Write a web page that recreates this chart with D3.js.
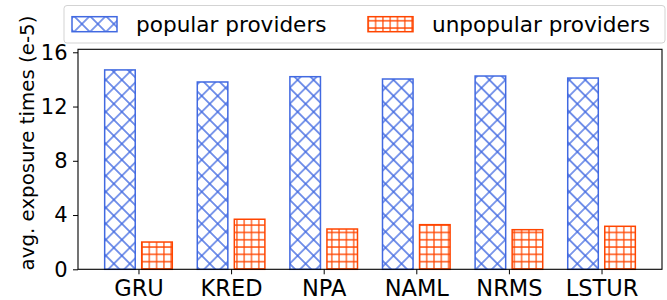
<!DOCTYPE html>
<html>
<head>
<meta charset="utf-8">
<script src="https://cdn.jsdelivr.net/npm/d3@7"></script>
<style>
	body { margin: 0; background: #fff; }
	text { font-family: "DejaVu Sans", sans-serif; }
</style>
</head>
<body>
<div id="chart"></div>
<script>
//Models on the x axis
var models = ["GRU", "KRED", "NPA", "NAML", "NRMS", "LSTUR"];

//avg. exposure times (e-5)
var popularValues = [14.70, 13.81, 14.20, 14.03, 14.25, 14.10];
var unpopularValues = [2.01, 3.69, 2.97, 3.29, 2.92, 3.17];

var yTicks = [0, 4, 8, 12, 16];
var seriesNames = ["popular providers", "unpopular providers"];

var blue = "#4169e1", orange = "#ff4500";

function draw(){
	var w = 667, h = 300;
	var left = 78, right = 662, top = 49.3, bottom = 269.3;

	var svg = d3.select("#chart").append("svg")
		.attr("width", w)
		.attr("height", h);

	var defs = svg.append("defs");

	//cross hatch: a square grid turned by 45 degrees
	var xHatch = defs.append("pattern")
		.attr("id", "hatchX")
		.attr("patternUnits", "userSpaceOnUse")
		.attr("width", 11.3)
		.attr("height", 11.3)
		.attr("patternTransform", "translate(2,0) rotate(45)");
	xHatch.append("path")
		.attr("d", "M5.65,0V11.3M0,5.65H11.3")
		.attr("stroke", blue)
		.attr("stroke-width", 1.3);

	//plus hatch: plain square grid
	var plusHatch = defs.append("pattern")
		.attr("id", "hatchPlus")
		.attr("patternUnits", "userSpaceOnUse")
		.attr("width", 7.3)
		.attr("height", 7.3)
		.attr("x", 138.35)
		.attr("y", 2.5);
	plusHatch.append("path")
		.attr("d", "M3.65,0V7.3M0,3.65H7.3")
		.attr("stroke", orange)
		.attr("stroke-width", 1.2);

	var x = d3.scaleLinear().domain([-0.653, 5.653]).range([left, right]);
	var y = d3.scaleLinear().domain([0, 16.22]).range([bottom, top]);

	var barWidth = 0.33, offset = 0.2;

	//popular bars
	svg.append("g").selectAll("rect")
		.data(popularValues)
		.enter().append("rect")
		.attr("x", function(d, i){ return x(i - offset - barWidth / 2); })
		.attr("width", x(barWidth) - x(0))
		.attr("y", function(d){ return y(d); })
		.attr("height", function(d){ return y(0) - y(d); })
		.attr("fill", "url(#hatchX)")
		.attr("stroke", blue)
		.attr("stroke-width", 1.5);

	//unpopular bars
	svg.append("g").selectAll("rect")
		.data(unpopularValues)
		.enter().append("rect")
		.attr("x", function(d, i){ return x(i + offset - barWidth / 2); })
		.attr("width", x(barWidth) - x(0))
		.attr("y", function(d){ return y(d); })
		.attr("height", function(d){ return y(0) - y(d); })
		.attr("fill", "url(#hatchPlus)")
		.attr("stroke", orange)
		.attr("stroke-width", 1.5);

	//frame
	svg.append("rect")
		.attr("x", left)
		.attr("y", top)
		.attr("width", right - left)
		.attr("height", bottom - top)
		.attr("fill", "none")
		.attr("stroke", "#000")
		.attr("stroke-width", 1.1);

	//x axis
	var xAxis = d3.axisBottom(x)
		.tickValues(d3.range(models.length))
		.tickFormat(function(d){ return models[d]; })
		.tickSize(5)
		.tickPadding(6);
	var gx = svg.append("g")
		.attr("transform", "translate(0," + bottom + ")")
		.call(xAxis);
	gx.select(".domain").remove();
	gx.selectAll("text")
		.attr("font-size", 22.5)
		.attr("font-family", "DejaVu Sans")
		.attr("fill", "#000");

	//y axis
	var yAxis = d3.axisLeft(y)
		.tickValues(yTicks)
		.tickSize(5)
		.tickPadding(5.5);
	var gy = svg.append("g")
		.attr("transform", "translate(" + left + ",0)")
		.call(yAxis);
	gy.select(".domain").remove();
	gy.selectAll("text")
		.attr("font-size", 21)
		.attr("font-family", "DejaVu Sans")
		.attr("fill", "#000");

	//y label
	svg.append("text")
		.attr("transform", "translate(34,143) rotate(-90)")
		.attr("text-anchor", "middle")
		.attr("font-size", 19.8)
		.text("avg. exposure times (e-5)");

	//legend
	var legend = svg.append("g");
	legend.append("rect")
		.attr("x", 64)
		.attr("y", 5.5)
		.attr("width", 601)
		.attr("height", 37.5)
		.attr("rx", 3)
		.attr("fill", "#fff")
		.attr("fill-opacity", 0.8)
		.attr("stroke", "#d3d3d3")
		.attr("stroke-width", 1);

	var entryX = [72, 368];
	var fills = ["url(#hatchX)", "url(#hatchPlus)"];
	var strokes = [blue, orange];
	for(var i = 0; i < seriesNames.length; i++){
		legend.append("text")
			.attr("x", entryX[i] + 64)
			.attr("y", 32)
			.attr("font-size", 21.6)
			.text(seriesNames[i]);
		legend.append("rect")
			.attr("x", entryX[i])
			.attr("y", 16.7)
			.attr("width", 45)
			.attr("height", 15)
			.attr("fill", fills[i])
			.attr("stroke", strokes[i])
			.attr("stroke-width", 1.5);
	}
}

draw();
</script>
</body>
</html>
